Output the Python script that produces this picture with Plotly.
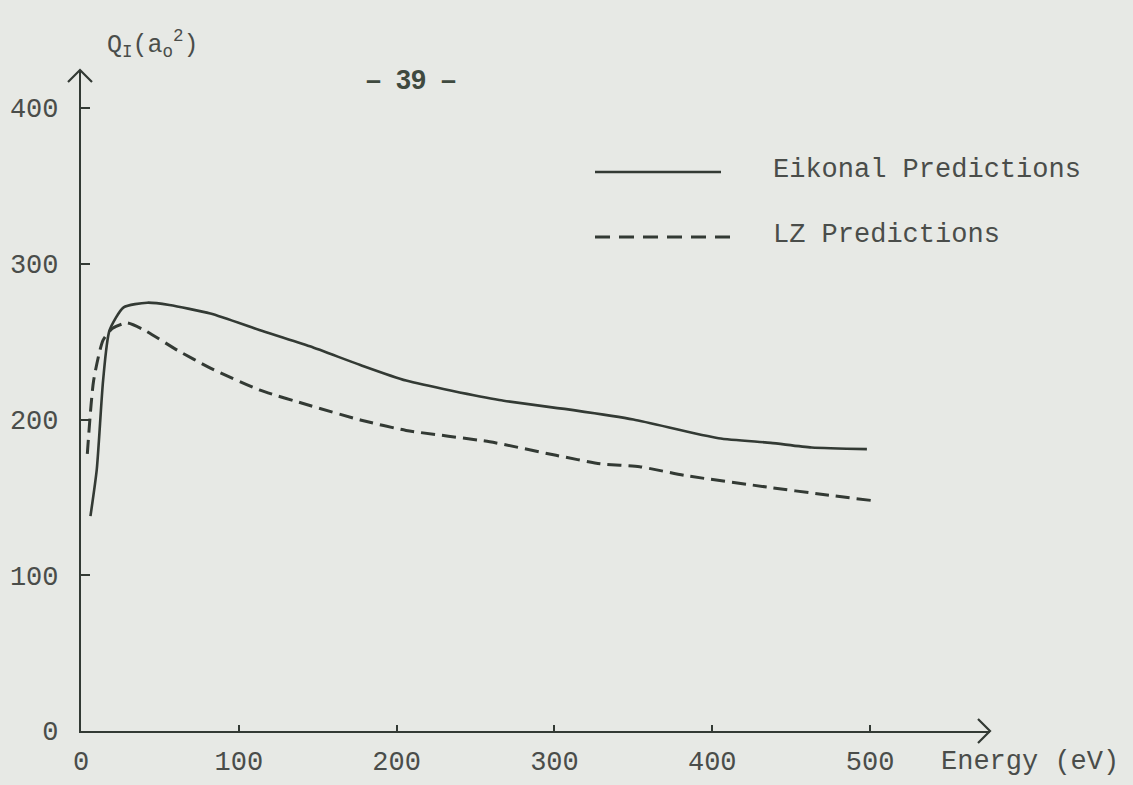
import plotly.graph_objects as go

# Eikonal predictions: cross section Q_I (a_o^2) vs energy (eV)
eikonal_energy = [6, 10, 14, 18, 27, 42, 56, 82, 113, 145, 177, 206, 265, 312, 350, 404, 437, 463, 498]
eikonal_q = [138, 168, 225, 257, 272, 275, 273.5, 268, 257.5, 247, 235, 225, 212.5, 206, 200, 188, 185, 182, 181]

# Landau-Zener predictions
lz_energy = [4, 8, 14, 20, 29, 40, 61, 82, 113, 145, 177, 206, 259, 301, 329, 354, 383, 437, 469, 501]
lz_q = [178, 225, 251, 258.5, 262, 257.5, 244.5, 233, 219, 209, 199.7, 193, 185.7, 177, 171.6, 169.7, 164, 156.3, 152, 148]

x_ticks = [0, 100, 200, 300, 400, 500]
y_ticks = [0, 100, 200, 300, 400]

W, H = 1133, 785
ML, MR, MT, MB = 81, 143, 70, 54
PW, PH = W - ML - MR, H - MT - MB
X_MAX, Y_MAX = 576, 424.4

PAPER = "#e7e9e5"
INK = "#333a34"
TEXT = "#4a4d4a"
MONO = "Liberation Mono"


def px(x):
    """Pixel column -> paper x fraction."""
    return (x - ML) / PW


def py(y):
    """Pixel row -> paper y fraction."""
    return (H - MB - y) / PH


fig = go.Figure()
fig.add_trace(go.Scatter(
    x=eikonal_energy, y=eikonal_q, mode="lines", name="Eikonal Predictions",
    line=dict(color=INK, width=2.6, shape="spline", smoothing=0.6),
))
fig.add_trace(go.Scatter(
    x=lz_energy, y=lz_q, mode="lines", name="LZ Predictions",
    line=dict(color=INK, width=3, dash="14px,7px", shape="spline", smoothing=0.6),
))

shapes = []
# arrowheads on the axes
ah = 12
shapes.append(dict(type="path", xref="paper", yref="paper",
                   path=f"M {px(ML - 1 - ah)},{py(70 + ah)} L {px(ML - 1)},{py(70)} L {px(ML - 1 + ah)},{py(70 + ah)}",
                   line=dict(color=INK, width=2.2)))
xt = W - MR
shapes.append(dict(type="path", xref="paper", yref="paper",
                   path=f"M {px(xt - ah)},{py(H - MB - ah)} L {px(xt)},{py(H - MB)} L {px(xt - ah)},{py(H - MB + ah)}",
                   line=dict(color=INK, width=2.2)))
# legend samples
shapes.append(dict(type="line", xref="paper", yref="paper",
                   x0=px(595), x1=px(721), y0=py(172), y1=py(172),
                   line=dict(color=INK, width=2.6)))
shapes.append(dict(type="line", xref="paper", yref="paper",
                   x0=px(595), x1=px(739), y0=py(237), y1=py(237),
                   line=dict(color=INK, width=3, dash="15px,9px")))

annotations = [
    dict(text="Eikonal Predictions", x=px(771), y=py(170), xref="paper", yref="paper",
         xanchor="left", yanchor="middle", showarrow=False,
         font=dict(family=MONO, size=27, color=TEXT)),
    dict(text="LZ Predictions", x=px(771), y=py(235), xref="paper", yref="paper",
         xanchor="left", yanchor="middle", showarrow=False,
         font=dict(family=MONO, size=27, color=TEXT)),
    dict(text="Energy (eV)", x=px(939), y=py(762), xref="paper", yref="paper",
         xanchor="left", yanchor="middle", showarrow=False,
         font=dict(family=MONO, size=27, color=TEXT)),
    dict(text="Q<sub>I</sub>(a<sub>o</sub><sup>2</sup>)", x=px(105), y=py(44), xref="paper", yref="paper",
         xanchor="left", yanchor="middle", showarrow=False,
         font=dict(family=MONO, size=25, color=TEXT)),
    dict(text="\u2013\u00a0\u00a039\u00a0\u00a0\u2013", x=px(411), y=py(80), xref="paper", yref="paper",
         xanchor="center", yanchor="middle", showarrow=False,
         font=dict(family="Liberation Sans", size=27, color="#3f4a3f", weight="bold")),
]

fig.update_layout(
    width=W, height=H,
    margin=dict(l=ML, r=MR, t=MT, b=MB, autoexpand=False),
    paper_bgcolor=PAPER, plot_bgcolor=PAPER,
    showlegend=False,
    shapes=shapes,
    annotations=annotations,
    xaxis=dict(range=[0, X_MAX], tickvals=x_ticks, ticktext=[str(v) for v in x_ticks],
               automargin=False,
               showgrid=False, zeroline=False, showline=True, linecolor=INK, linewidth=2.2,
               ticks="inside", ticklen=6, tickwidth=2, tickcolor=INK,
               ticklabelstandoff=4,
               tickfont=dict(family=MONO, size=27, color=TEXT), fixedrange=True),
    yaxis=dict(range=[0, Y_MAX], tickvals=y_ticks, ticktext=[str(v) for v in y_ticks],
               automargin=False,
               showgrid=False, zeroline=False, showline=True, linecolor=INK, linewidth=2.2,
               ticks="inside", ticklen=9, tickwidth=2, tickcolor=INK,
               ticklabelstandoff=15,
               tickfont=dict(family=MONO, size=27, color=TEXT), fixedrange=True),
)

fig.write_html("out.html")
